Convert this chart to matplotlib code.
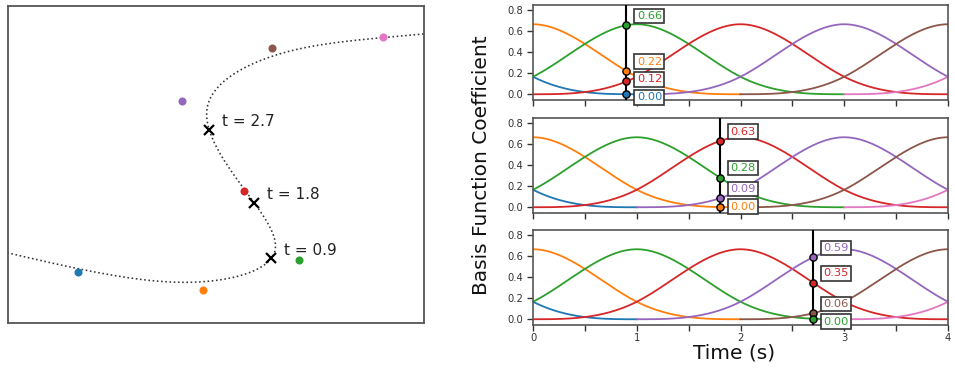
import numpy as np
import matplotlib
matplotlib.use('Agg')
import matplotlib.pyplot as plt

# ---------------- data ----------------
# visible control points (left panel units), one per basis function
ctrl_x = [1.683, 4.688, 7.003, 5.673, 4.183, 6.339, 9.007]
ctrl_y = [1.233, 0.793, 1.507, 3.180, 5.337, 6.603, 6.868]
# control points outside the visible window (curve continues off-screen)
lead_x = [-9.28, -3.80]
lead_y = [4.05, 2.64]
tail_x = [12.73, 16.45]
tail_y = [7.18, 7.48]
# knot-centres (s) of the seven basis functions shown
basis_centers = [-1, 0, 1, 2, 3, 4, 5]
lead_centers = [-3, -2]
tail_centers = [6, 7]
# evaluation times marked on the curve / in the three panels
eval_times = [0.9, 1.8, 2.7]
time_ticks = [0, 1, 2, 3, 4]
colors = ['#1f77b4', '#ff7f0e', '#2ca02c', '#d62728',
          '#9467bd', '#8c564b', '#e377c2']


def cubic_bspline(x):
    """Uniform cubic B-spline basis centred at 0."""
    x = np.abs(np.asarray(x, dtype=float))
    out = np.zeros_like(x)
    a = x < 1
    out[a] = (4 - 6 * x[a] ** 2 + 3 * x[a] ** 3) / 6
    b = (x >= 1) & (x < 2)
    out[b] = (2 - x[b]) ** 3 / 6
    return out


W, H = 955, 369
fig = plt.figure(figsize=(W / 100, H / 100), dpi=100)

spine_col = '#555555'
tick_col = '#333333'

# ---------------- left panel ----------------
axL = fig.add_axes([8 / W, 1 - 323 / H, 416 / W, 317 / H])
all_x = lead_x + ctrl_x + tail_x
all_y = lead_y + ctrl_y + tail_y
all_c = lead_centers + basis_centers + tail_centers
tc = np.linspace(-2, 6, 1200)
cx = sum(cubic_bspline(tc - c) * px for c, px in zip(all_c, all_x))
cy = sum(cubic_bspline(tc - c) * py for c, py in zip(all_c, all_y))
axL.plot(cx, cy, ls=':', color='#333333', lw=1.15, zorder=2)

for k in range(len(ctrl_x)):
    axL.plot(ctrl_x[k], ctrl_y[k], 'o', color=colors[k], ms=5.8,
             mec='none', zorder=3)

for te in eval_times:
    w = [cubic_bspline(te - c) for c in all_c]
    px = float(sum(wi * xi for wi, xi in zip(w, all_x)))
    py = float(sum(wi * yi for wi, yi in zip(w, all_y)))
    axL.plot(px, py, 'x', color='black', ms=6.5, mew=1.6, zorder=4)
    axL.annotate(f't = {te}', (px, py), xytext=(13, 8),
                 textcoords='offset pixels', fontsize=11, color='#222222',
                 va='center', ha='left')

axL.set_xlim(0, 10)
axL.set_ylim(0, 317 / 41.6)
axL.set_xticks([])
axL.set_yticks([])
for s in axL.spines.values():
    s.set_color(spine_col)
    s.set_linewidth(1.3)

# ---------------- right panels ----------------
tops = [5, 118, 230]
ph = 94.5
for i, te in enumerate(eval_times):
    ax = fig.add_axes([533 / W, 1 - (tops[i] + ph) / H, 415 / W, ph / H])
    for k, c in enumerate(basis_centers):
        lo, hi = max(0, c - 2), min(4, c + 2)
        t = np.linspace(lo, hi, 400)
        ax.plot(t, cubic_bspline(t - c), color=colors[k], lw=1.3, zorder=2)
    ax.axvline(te, color='black', lw=1.5, zorder=3)

    active = [k for k, c in enumerate(basis_centers) if abs(te - c) < 2]
    vals = {k: float(cubic_bspline(te - basis_centers[k])) for k in active}
    order = sorted(active, key=lambda k: -vals[k])
    prev = None
    for k in order:
        v = vals[k]
        ly = v + 0.09
        if prev is not None:
            ly = min(ly, prev - 0.17)
        prev = ly
        ax.plot(te, v, 'o', color=colors[k], mec='black', mew=1.0, ms=5.2,
                zorder=4)
        ax.text(te + 0.1, ly, f'{v:.2f}', color=colors[k], fontsize=8.2,
                va='center', ha='left', zorder=5,
                bbox=dict(boxstyle='square,pad=0.2', fc='white',
                          ec='#333333', lw=1.2))

    ax.set_xlim(0, 4)
    ax.set_ylim(-0.05, 0.85)
    ax.set_yticks([0.0, 0.2, 0.4, 0.6, 0.8])
    ax.set_yticklabels(['0.0', '0.2', '0.4', '0.6', '0.8'])
    ax.set_xticks(np.arange(0, 4.01, 0.5))
    if i == 2:
        labels = []
        for v in np.arange(0, 4.01, 0.5):
            labels.append(str(int(v)) if int(v) in time_ticks and v == int(v) else '')
        ax.set_xticklabels(labels)
    else:
        ax.set_xticklabels([])
    ax.tick_params(labelsize=7.2, colors=tick_col, length=4, width=1.0,
                   pad=3)
    ax.tick_params(axis='x', pad=2)
    for s in ax.spines.values():
        s.set_color(spine_col)
        s.set_linewidth(1.2)

fig.text(481 / W, 1 - 165 / H, 'Basis Function Coefficient', rotation=90,
         fontsize=14.5, ha='center', va='center', color='#111111')
fig.text(734 / W, 1 - 353 / H, 'Time (s)', fontsize=14.5, ha='center',
         va='center', color='#111111')

fig.savefig('out.png', dpi=100)
